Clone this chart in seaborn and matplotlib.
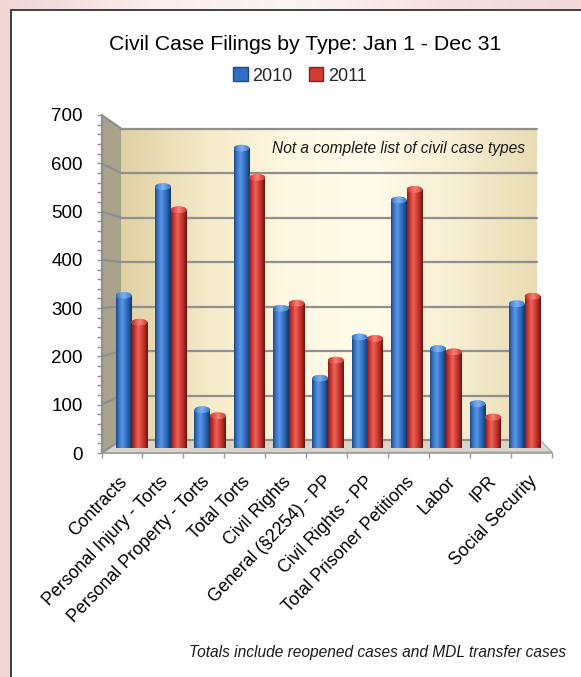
import numpy as np
import pandas as pd
import matplotlib
matplotlib.use("Agg")
import matplotlib.pyplot as plt
import seaborn as sns
from matplotlib.patches import Polygon, Rectangle, Ellipse, Patch
from matplotlib.colors import LinearSegmentedColormap
from matplotlib.transforms import blended_transform_factory, ScaledTranslation

# ---------------- data ----------------
categories = ["Contracts", "Personal Injury - Torts", "Personal Property - Torts",
              "Total Torts", "Civil Rights", "General (§2254) - PP",
              "Civil Rights - PP", "Total Prisoner Petitions", "Labor", "IPR",
              "Social Security"]
filings_2010 = [330, 565, 83, 648, 302, 151, 240, 536, 215, 96, 312]
filings_2011 = [272, 515, 70, 585, 313, 190, 237, 559, 208, 67, 328]
years = ["2010", "2011"]
y_ticks = [0, 100, 200, 300, 400, 500, 600, 700]
title_text = "Civil Case Filings by Type: Jan 1 - Dec 31"
note_text = "Not a complete list of civil case types"
footer_text = "Totals include reopened cases and MDL transfer cases"

df = pd.DataFrame({
    "category": categories * 2,
    "filings": filings_2010 + filings_2011,
    "year": [years[0]] * len(categories) + [years[1]] * len(categories),
})

# ---------------- style ----------------
sns.set_theme(style="white")
plt.rcParams["font.family"] = ["Liberation Sans", "DejaVu Sans"]

W, H = 581, 677
fig = plt.figure(figsize=(W / 100, H / 100), dpi=100)
fig.patch.set_facecolor("#f3dede")


def frect(x0, y0, x1, y1):
    return [x0 / W, 1 - y1 / H, (x1 - x0) / W, (y1 - y0) / H]


def grad(stops, n=128):
    cmap = LinearSegmentedColormap.from_list("g", stops)
    return cmap(np.linspace(0, 1, n))[None, :, :]


# ---------------- background / frame / walls ----------------
ax_bg = fig.add_axes([0, 0, 1, 1])
ax_bg.set_xlim(0, W)
ax_bg.set_ylim(H, 0)
ax_bg.axis("off")
ax_bg.set_zorder(0)
# soft pink wash behind the frame (slide background)
ax_bg.imshow(grad(["#f1d6d6", "#f8ecec", "#fbf5f5", "#f6e2e2", "#f2d8d8"]),
             extent=[0, W, H, 0], aspect="auto", interpolation="bilinear")
ax_bg.add_patch(Rectangle((11, 10), W + 10, H + 10, facecolor="white",
                          edgecolor="#333333", lw=1.3))
ax_bg.set_xlim(0, W)
ax_bg.set_ylim(H, 0)

FX, FTOP, FBOT = 101.5, 115, 453      # front edge of left wall
BX, BTOP, BBOT = 121, 128.5, 440       # back edge of left wall / back wall
BRIGHT = 537

left_wall = Polygon([(FX, FTOP), (BX, BTOP), (BX, BBOT), (FX, FBOT)],
                    closed=True, facecolor="#a9a38b", edgecolor="none")
ax_bg.add_patch(left_wall)
floor = Polygon([(FX, FBOT), (BX, BBOT), (BRIGHT + 3, BBOT), (552, 452)],
                closed=True, facecolor="#d9d6c7", edgecolor="#a6a6a6", lw=0.8)
ax_bg.add_patch(floor)
for v in y_ticks:
    yf = FBOT - v / 700 * (FBOT - FTOP)
    yb = BBOT - v / 700 * (BBOT - BTOP)
    ax_bg.plot([FX, BX], [yf, yb], color="#8f8f8f", lw=1.6, solid_capstyle="butt")

# ---------------- back wall ----------------
ax_back = fig.add_axes(frect(BX, BTOP, BRIGHT, BBOT))
ax_back.set_zorder(1)
ax_back.imshow(grad(["#e0d1a4", "#f5eac8", "#fdf8e2", "#fffbea", "#f7efd3", "#e9dcb3"]),
               extent=[0, 1, 0, 700], aspect="auto", interpolation="bilinear")
for v in y_ticks:
    ax_back.axhline(v, color="#8f8f8f", lw=1.6, clip_on=False)
ax_back.set_xlim(0, 1)
ax_back.set_ylim(0, 700)
ax_back.axis("off")

# ---------------- bars ----------------
ax_bars = fig.add_axes(frect(111.85, 124, 544.2, 448))
ax_bars.set_zorder(2)
ax_bars.patch.set_alpha(0)
palette = ["#2f6fc4", "#d33b33"]
sns.barplot(data=df, x="category", y="filings", hue="year", palette=palette,
            width=0.8, errorbar=None, legend=False, saturation=1, ax=ax_bars)
ax_bars.set_xlim(-0.5, len(categories) - 0.5)
ax_bars.set_ylim(0, 700)

body_stops = [
    ["#1b4782", "#3a79cf", "#5a97e3", "#3a79cd", "#275ba3", "#143461"],
    ["#8a1c19", "#cd3932", "#ec645a", "#d6423a", "#ad2b26", "#671310"],
]
cap_stops = [
    ["#2d62ab", "#5c98e4", "#7db0ef", "#5a93dd", "#3a72bf"],
    ["#b02c28", "#e4584f", "#f58177", "#e05a50", "#c23a33"],
]
cap_h = 6.5 / 324 * 700   # ~6.5 px ellipse cap in data units

for cont, bstops, cstops in zip(ax_bars.containers, body_stops, cap_stops):
    for patch in cont:
        x0, y0 = patch.get_x(), patch.get_y()
        w, h = patch.get_width(), patch.get_height()
        patch.set_edgecolor("none")
        im = ax_bars.imshow(grad(bstops), extent=[x0, x0 + w, y0, y0 + h],
                            aspect="auto", interpolation="bilinear", zorder=1.5)
        im.set_clip_path(patch)
        cap = Ellipse((x0 + w / 2, y0 + h), w, cap_h, facecolor=cstops[2],
                      edgecolor="none", zorder=2)
        ax_bars.add_patch(cap)
        im2 = ax_bars.imshow(grad(cstops), extent=[x0, x0 + w, y0 + h - cap_h / 2, y0 + h + cap_h / 2],
                             aspect="auto", interpolation="bilinear", zorder=2.1)
        im2.set_clip_path(cap)

ax_bars.set_xlim(-0.5, len(categories) - 0.5)
ax_bars.set_ylim(0, 700)
ax_bars.axis("off")

# ---------------- front axis (ticks and labels) ----------------
ax_front = fig.add_axes(frect(FX, FTOP, 551.7, FBOT))
ax_front.set_zorder(3)
ax_front.patch.set_alpha(0)
ax_front.set_xlim(-0.5, len(categories) - 0.5)
ax_front.set_ylim(0, 700)
for s in ["top", "right"]:
    ax_front.spines[s].set_visible(False)
ax_front.spines["left"].set_color("#8f8f8f")
ax_front.spines["left"].set_linewidth(1.6)
ax_front.spines["bottom"].set_color("#9a9a9a")
ax_front.spines["bottom"].set_linewidth(1.2)
ax_front.set_yticks(y_ticks)
ax_front.set_yticklabels([str(v) for v in y_ticks], fontsize=13.5, color="#000000")
ax_front.set_yticks(np.arange(0, 701, 20), minor=True)
ax_front.tick_params(axis="y", which="both", direction="out", length=3.6, width=1,
                     color="#8f8f8f", pad=10, left=True)
ax_front.set_xticks(np.arange(-0.5, len(categories), 1))
ax_front.set_xticklabels([])
ax_front.tick_params(axis="x", which="both", direction="out", length=3.8, width=1,
                     color="#9a9a9a", bottom=True)
ax_front.grid(False)

trans = blended_transform_factory(ax_front.transData, ax_front.transAxes)
for i, c in enumerate(categories):
    ax_front.text(i, 0, c,
                  transform=trans + ScaledTranslation(3 / 100, -26 / 100, fig.dpi_scale_trans),
                  rotation=46, rotation_mode="anchor", ha="right", va="center",
                  fontsize=12.8, color="#000000")

# ---------------- texts ----------------
fig.text(305 / W, 1 - 45 / H, title_text, ha="center", va="center", fontsize=15.3,
         color="#000000")
fig.text(525 / W, 1 - 148 / H, note_text, ha="right", va="center", fontsize=11.2,
         style="italic", color="#1a1a1a")
fig.text(566 / W, 1 - 652 / H, footer_text, ha="right", va="center", fontsize=11.2,
         style="italic", color="#1a1a1a")

handles = [Patch(facecolor=palette[0], edgecolor="#1c4a86"),
           Patch(facecolor=palette[1], edgecolor="#8c1d1a")]
fig.legend(handles, years, loc="center", bbox_to_anchor=(300 / W, 1 - 76 / H), ncol=2,
           frameon=False, fontsize=13, handlelength=0.8, handleheight=0.8,
           handletextpad=0.25, columnspacing=0.9, borderpad=0)

fig.savefig("out.png", dpi=100, facecolor=fig.get_facecolor())
